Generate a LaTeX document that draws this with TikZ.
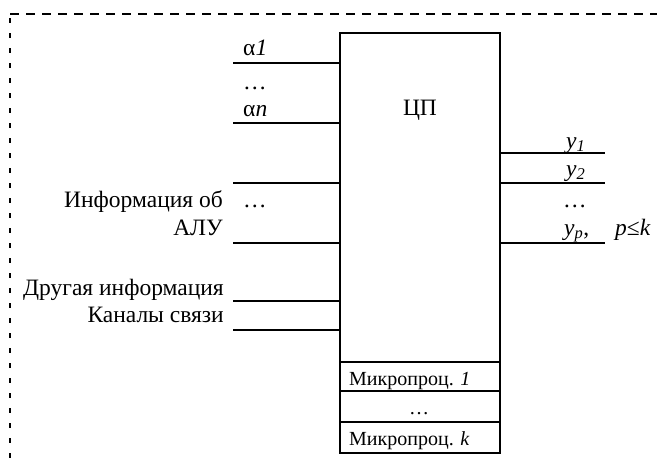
\documentclass[tikz,border=0pt]{standalone}
\usepackage{fontspec}
\setmainfont{Liberation Serif}
\begin{document}
\begin{tikzpicture}[x=1pt,y=-1pt,
  lbl/.style={inner sep=0pt,font=\fontsize{23.5}{26}\selectfont},
  mlbl/.style={inner sep=0pt,font=\fontsize{20}{23}\selectfont},
  wire/.style={line width=2pt},
  boxline/.style={line width=2pt}]
\useasboundingbox (0,0) rectangle (657,463);
% dashed border
\draw[line width=1.8pt,dash pattern=on 9pt off 7pt] (10,14) -- (657,14);
\draw[line width=1.8pt,dash pattern=on 5pt off 10pt] (10,18) -- (10,463);
% main box
\node[boxline,draw,minimum width=160pt,minimum height=420pt,inner sep=0pt,anchor=north west] (cpu) at (339,32) {};
\coordinate (r1) at (339,362);
\coordinate (r2) at (339,391);
\coordinate (r3) at (339,422);
\draw[boxline] (r1) -- (r1 -| cpu.east);
\draw[boxline] (r2) -- (r2 -| cpu.east);
\draw[boxline] (r3) -- (r3 -| cpu.east);
\node[lbl,anchor=base] (cp) at (420,115) {ЦП};
\node[mlbl,anchor=base west] (m1) at (349,385) {Микропроц. \textit{1}};
\node[mlbl,anchor=base] (md) at (419,414) {…};
\node[mlbl,anchor=base west] (mk) at (349,445) {Микропроц. \textit{k}};
% left inputs
\coordinate (l1) at (233,63);
\coordinate (l2) at (233,123);
\coordinate (l3) at (233,183);
\coordinate (l4) at (233,243);
\coordinate (l5) at (233,301);
\coordinate (l6) at (233,330);
\foreach \c in {l1,l2,l3,l4,l5,l6}{\draw[wire] (\c) -- (\c -| cpu.west);}
\node[lbl,anchor=base west] (a1) at (243,56) {α\textit{1}};
\node[lbl,anchor=base west] (ad) at (243,89) {…};
\node[lbl,anchor=base west] (an) at (243,116) {α\textit{n}};
\node[lbl,anchor=base east] (inf) at (223,207) {Информация об};
\node[lbl,anchor=base west] (idots) at (243,207) {…};
\node[lbl,anchor=base east] (alu) at (223,235) {АЛУ};
\node[lbl,anchor=base east] (other) at (224,295) {Другая информация};
\node[lbl,anchor=base east] (chan) at (224,322) {Каналы связи};
% right outputs
\coordinate (o1) at (605,153);
\coordinate (o2) at (605,183);
\coordinate (o3) at (605,243);
\foreach \c in {o1,o2,o3}{\draw[wire] (\c -| cpu.east) -- (\c);}
\node[lbl,anchor=base west] (y1) at (566,148) {\textit{y}\textsubscript{\textit{1}}};
\node[lbl,anchor=base west] (y2) at (566,176) {\textit{y}\textsubscript{\textit{2}}};
\node[lbl,anchor=base west] (yd) at (563,207) {…};
\node[lbl,anchor=base west] (yp) at (564,235) {\textit{y}\textsubscript{\textit{p}},};
\node[lbl,anchor=base west] (pk) at (615,235) {\textit{p}≤\textit{k}};
\end{tikzpicture}
\end{document}
